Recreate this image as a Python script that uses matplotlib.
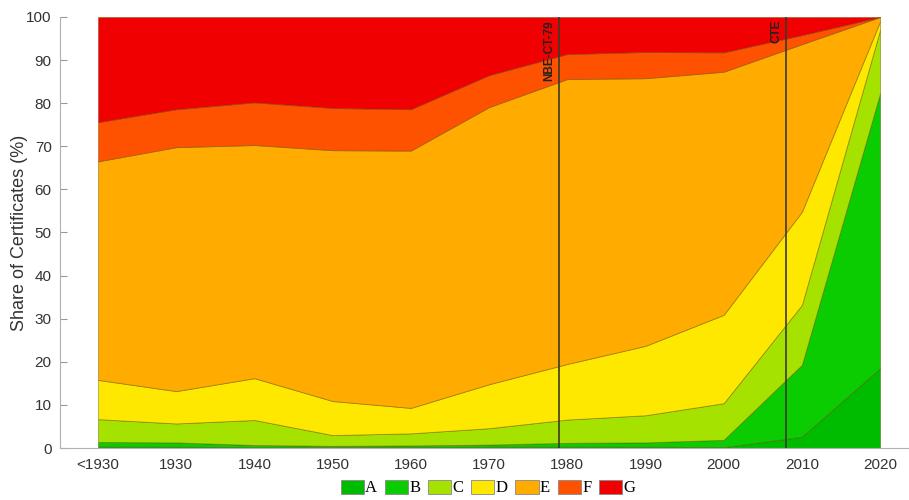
import matplotlib
matplotlib.use("Agg")
import matplotlib.pyplot as plt
from matplotlib.patches import Patch
import numpy as np

plt.rcParams['font.family'] = ['Liberation Sans', 'DejaVu Sans']

decades = ['<1930', '1930', '1940', '1950', '1960', '1970', '1980', '1990', '2000', '2010', '2020']
labels = ['A', 'B', 'C', 'D', 'E', 'F', 'G']
share_A = [0.3, 0.3, 0.2, 0.2, 0.2, 0.3, 0.3, 0.3, 0.2, 2.6, 18.5]
share_B = [1.1, 1.0, 0.5, 0.3, 0.4, 0.5, 0.9, 1.0, 1.7, 16.7, 63.8]
share_C = [5.3, 4.4, 5.8, 2.5, 2.8, 3.8, 5.4, 6.3, 8.5, 13.9, 14.7]
share_D = [9.1, 7.5, 9.7, 7.9, 5.9, 10.2, 12.9, 16.1, 20.5, 21.6, 2.0]
share_E = [50.7, 56.6, 54.1, 58.2, 59.7, 64.3, 66.1, 62.1, 56.4, 38.9, 1.0]
share_F = [9.1, 8.8, 9.9, 9.8, 9.6, 7.4, 5.8, 6.1, 4.5, 2.1, 0.0]
share_G = [24.4, 21.4, 19.8, 21.1, 21.4, 13.5, 8.6, 8.1, 8.2, 4.2, 0.0]
colors = ['#00BC00', '#0ACC00', '#A6E200', '#FFE800', '#FFAB00', '#FF5200', '#F00000']

regulations = ['NBE-CT-79', 'CTE']
regulation_pos = [5.9, 8.8]

fig = plt.figure(figsize=(9.09, 5.0), dpi=100)
ax = fig.add_axes([0.066, 0.104, 0.934, 0.862])

x = np.arange(len(decades))
series = [share_A, share_B, share_C, share_D, share_E, share_F, share_G]
ax.stackplot(x, *series, colors=colors, edgecolor=(0.35, 0.25, 0.0, 0.45), linewidth=0.6)

for name, pos in zip(regulations, regulation_pos):
    ax.axvline(pos, color='#3a3a2a', lw=1.4, alpha=0.85, zorder=5)
    ax.text(pos - 0.05, 99.3, name, rotation=90, ha='right', va='top',
            fontsize=8.5, fontweight='bold', color='#222222', zorder=6)

ax.set_xlim(-0.486, 10.37)
ax.set_ylim(0, 100)
ax.set_xticks(x)
ax.set_xticklabels(decades)
ax.set_yticks(np.arange(0, 101, 10))
ax.tick_params(axis='y', direction='in', length=5, color='#999999', labelsize=11, labelcolor='#333333', pad=6)
ax.tick_params(axis='x', length=0, labelsize=11, labelcolor='#333333', pad=7)
for s in ['top', 'right']:
    ax.spines[s].set_visible(False)
for s in ['left', 'bottom']:
    ax.spines[s].set_color('#b0b0b0')
ax.set_ylabel('Share of Certificates (%)', fontsize=13, color='#333333', labelpad=-1)

handles = [Patch(facecolor=c, edgecolor='#888888', linewidth=0.6) for c in colors]
fig.legend(handles, labels, loc='center', bbox_to_anchor=(0.537, 0.024), ncol=7, frameon=False,
           prop={'family': 'Liberation Serif', 'size': 12}, handlelength=1.4, handleheight=0.9,
           handletextpad=0.08, columnspacing=0.45)

fig.savefig('out.png', dpi=100)
